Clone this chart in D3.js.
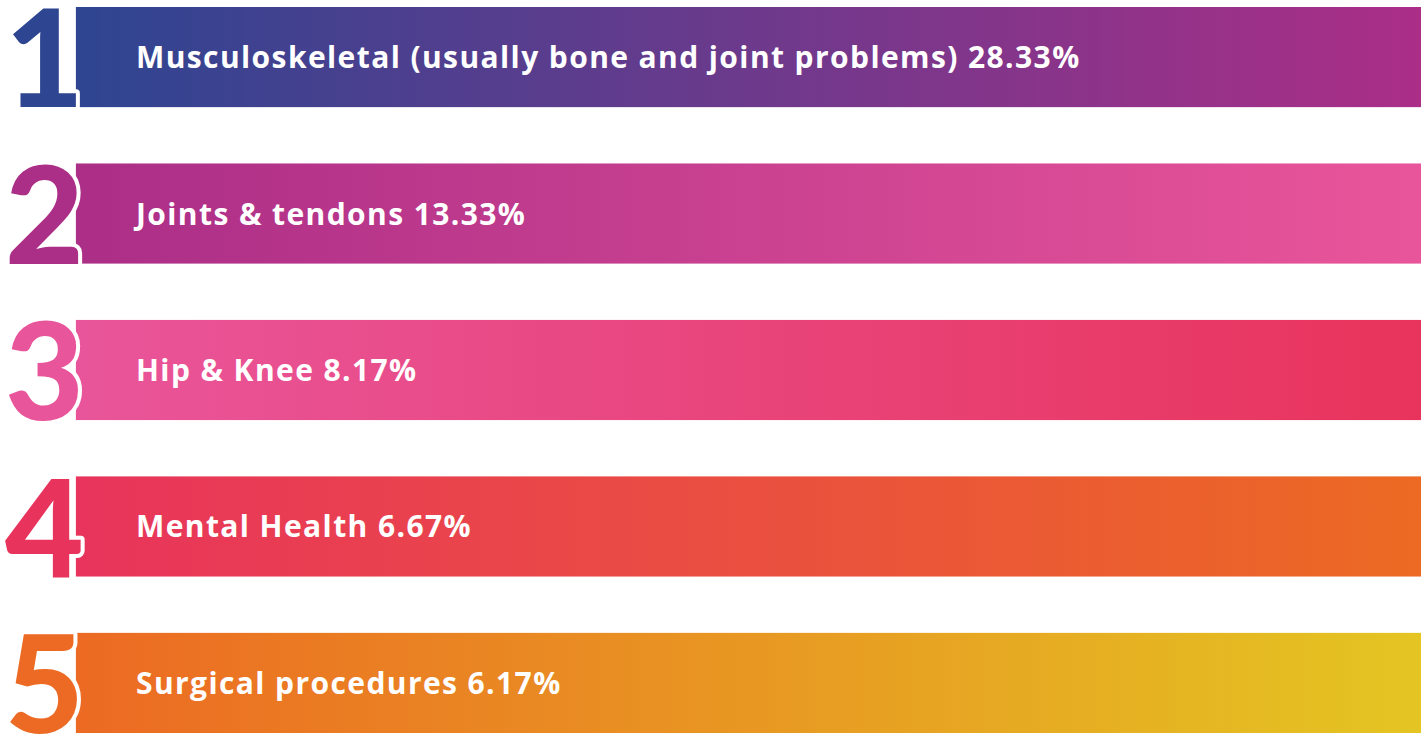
<!DOCTYPE html>
<html><head>
<meta charset="utf-8">
<title>Top 5 claim categories</title>
<script src="https://d3js.org/d3.v7.min.js"></script>
<style>
  body { margin: 0; background: #ffffff; }
  svg { display: block; }
</style>
</head>
<body>
<svg id="ranking" width="1428" height="736"></svg>
<script>
// data
let ranks = ["1", "2", "3", "4", "5"];
let categories = ["Musculoskeletal (usually bone and joint problems)", "Joints & tendons", "Hip & Knee", "Mental Health", "Surgical procedures"];
let shares = [28.33, 13.33, 8.17, 6.67, 6.17];
// colour at the left end of each bar; the last one is where bar 5 ends
let stops = ["#2e4591", "#ab2e87", "#e9559a", "#e8345c", "#ec6a23", "#e4c522"];

let svg = d3.select("svg#ranking");
let width = +svg.attr("width");
let height = +svg.attr("height");
let margin = {"top": 7, "right": 7, "bottom": 3, "left": 5};

let yScale = d3.scaleBand()
    .domain(ranks)
    .range([margin.top, height - margin.bottom])
    .paddingInner(0.36)
    .paddingOuter(0);

let xEnd = width - margin.right;

let defs = svg.append("defs");
ranks.forEach((r, i) => {
    let grad = defs.append("linearGradient")
        .attr("id", "grad" + r)
        .attr("x1", "0%").attr("x2", "100%")
        .attr("y1", "0%").attr("y2", "0%");
    grad.append("stop").attr("offset", "0%").attr("stop-color", stops[i]);
    grad.append("stop").attr("offset", "100%").attr("stop-color", stops[i + 1]);
});

let rows = svg.selectAll("g.row")
    .data(ranks)
    .enter()
    .append("g")
    .attr("class", "row");

// bars go under the numbers; their left edge is measured from the number
let bars = rows.append("rect");

let nums = rows.append("text")
    .attr("x", margin.left)
    .attr("y", d => yScale(d) + yScale.bandwidth())
    .attr("font-family", "Lato, 'Open Sans', sans-serif")
    .attr("font-weight", 900)
    .attr("font-size", 136)
    .attr("fill", (d, i) => stops[i])
    .attr("stroke", "#ffffff")
    .attr("stroke-width", 8)
    .attr("stroke-linejoin", "round")
    .attr("paint-order", "stroke")
    .text(d => d);

nums.each(function(d, i) {
    let box = this.getBBox();
    let x0 = box.x + box.width - 8;
    d3.select(bars.nodes()[i])
        .attr("x", x0)
        .attr("y", yScale(d))
        .attr("width", xEnd - x0)
        .attr("height", yScale.bandwidth())
        .attr("fill", "url(#grad" + d + ")");
});

rows.append("text")
    .attr("x", 136)
    .attr("y", d => yScale(d) + yScale.bandwidth() / 2 + 11)
    .attr("font-family", "'Open Sans', Lato, sans-serif")
    .attr("font-weight", 700)
    .attr("font-size", 30)
    .attr("letter-spacing", 1.4)
    .attr("fill", "#ffffff")
    .text((d, i) => categories[i] + " " + d3.format(".2f")(shares[i]) + "%");
</script>
</body>
</html>
